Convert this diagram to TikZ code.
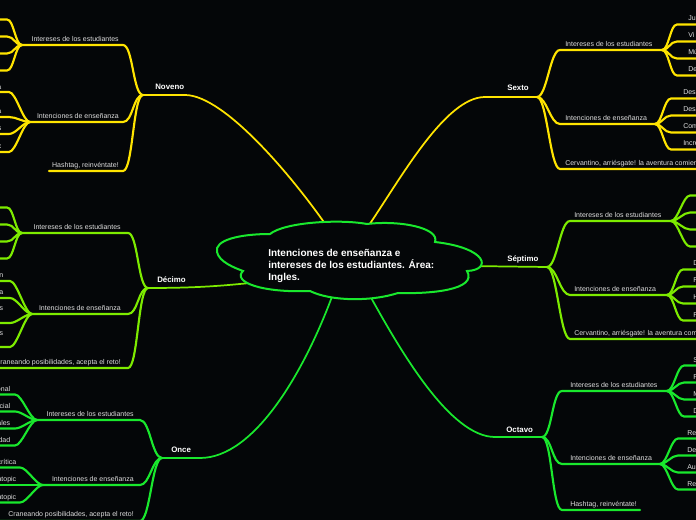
\documentclass[tikz,border=0pt]{standalone}
\usepackage{fontspec}
\setmainfont{Liberation Sans}
\definecolor{bg}{RGB}{4,6,8}
\definecolor{yel}{RGB}{255,228,0}
\definecolor{lim}{RGB}{125,235,0}
\definecolor{grn}{RGB}{25,232,45}
\definecolor{lab}{RGB}{222,222,222}
% right-side leaves with text: #1 hub, #2 colour, #3 curve end x, #4 text x, #5 list y/base/text
\newcommand\rleaves[5]{%
  \foreach \yy/\bb/\ss [count=\k] in {#5} {
    \coordinate (#1l\k) at (#3,\yy);
    \coordinate (#1r\k) at (710,\yy);
    \draw[leaf,#2] (#1) .. controls +(7,0) and +(-7,0) .. (#1l\k) -- (#1r\k);
    \node[lbl,anchor=base west] (#1t\k) at (#4,\bb) {\ss};
  }}
\newcommand\rlines[4]{%
  \foreach \yy [count=\k] in {#4} {
    \coordinate (#1l\k) at (#3,\yy);
    \coordinate (#1r\k) at (710,\yy);
    \draw[leaf,#2] (#1) .. controls +(7,0) and +(-7,0) .. (#1l\k) -- (#1r\k);
  }}
\newcommand\lleaves[5]{%
  \foreach \yy/\bb/\ss [count=\k] in {#5} {
    \coordinate (#1l\k) at (#3,\yy);
    \coordinate (#1r\k) at (-14,\yy);
    \draw[leaf,#2] (#1) .. controls +(-7,0) and +(7,0) .. (#1l\k) -- (#1r\k);
    \node[lbl,anchor=base east] (#1t\k) at (#4,\bb) {\ss};
  }}
\newcommand\llines[4]{%
  \foreach \yy [count=\k] in {#4} {
    \coordinate (#1l\k) at (#3,\yy);
    \coordinate (#1r\k) at (-14,\yy);
    \draw[leaf,#2] (#1) .. controls +(-7,0) and +(7,0) .. (#1l\k) -- (#1r\k);
  }}
\begin{document}
\begin{tikzpicture}[x=0.75pt,y=-0.75pt,
  main/.style={line width=1.3pt,line cap=round},
  sub/.style={line width=1.6pt,line cap=round,line join=round},
  leaf/.style={line width=1.6pt,line cap=round},
  lbl/.style={font=\fontsize{5.25}{6.3}\selectfont,text=lab,inner sep=0pt},
  br/.style={font=\bfseries\fontsize{5.9}{7}\selectfont,text=white,inner sep=0pt},
  cloudline/.style={draw=grn,line width=1.5pt,fill=bg}]
\useasboundingbox (0,0) rectangle (696,520);
\fill[bg] (0,0) rectangle (696,520);
\clip (0,0) rectangle (696,520);

% attach points on the cloud
\coordinate (cnov) at (328,228);
\coordinate (csex) at (367,228);
\coordinate (cdec) at (250,283);
\coordinate (csep) at (468,266);
\coordinate (conc) at (333,294);
\coordinate (coct) at (369,294);

% ---------------- Sexto ----------------
\coordinate (sex) at (537,97);
\coordinate (sexk) at (485,97);
\draw[main,yel] (csex) .. controls (400,180) and (445,97) .. (sexk) -- (sex);
\coordinate (sxAa) at (560,50);  \coordinate (sxA) at (662,50);
\coordinate (sxBa) at (560,124); \coordinate (sxB) at (655,124);
\coordinate (sxCa) at (560,169); \coordinate (sxC) at (710,169);
\draw[sub,yel] (sex) .. controls +(10,0) and +(-10,0) .. (sxAa) -- (sxA);
\draw[sub,yel] (sex) .. controls +(10,0) and +(-10,0) .. (sxBa) -- (sxB);
\draw[sub,yel] (sex) .. controls +(10,0) and +(-10,0) .. (sxCa) -- (sxC);
\rleaves{sxA}{yel}{677}{688}{24.5/21/Ju,41.5/38/Vi,58.5/55/Mú,75.5/72/De}
\rleaves{sxB}{yel}{671}{683}{98.5/95/Desa,115.5/112/Desa,132.5/129/Com,149.5/146/Incre}

% ---------------- Septimo ----------------
\coordinate (sep) at (547,267);
\draw[main,lim] (csep) -- (sep);
\coordinate (spAa) at (570,221); \coordinate (spA) at (671,221);
\coordinate (spBa) at (570,295); \coordinate (spB) at (667,295);
\coordinate (spCa) at (570,339); \coordinate (spC) at (710,339);
\draw[sub,lim] (sep) .. controls +(10,0) and +(-10,0) .. (spAa) -- (spA);
\draw[sub,lim] (sep) .. controls +(10,0) and +(-10,0) .. (spBa) -- (spB);
\draw[sub,lim] (sep) .. controls +(10,0) and +(-10,0) .. (spCa) -- (spC);
\rlines{spA}{lim}{690}{195.5,212.5,229.5,246.5}
\rleaves{spB}{lim}{683}{693}{269.5/266/D,286.5/283/R,303.5/300/H,320.5/317/R}

% ---------------- Octavo ----------------
\coordinate (oct) at (542,437);
\coordinate (octk) at (495,437);
\draw[main,grn] (coct) .. controls (400,350) and (450,437) .. (octk) -- (oct);
\coordinate (ocAa) at (562,391); \coordinate (ocA) at (667,391);
\coordinate (ocBa) at (562,464); \coordinate (ocB) at (660,464);
\coordinate (ocCa) at (562,510); \coordinate (ocC) at (640,510);
\draw[sub,grn] (oct) .. controls +(10,0) and +(-10,0) .. (ocAa) -- (ocA);
\draw[sub,grn] (oct) .. controls +(10,0) and +(-10,0) .. (ocBa) -- (ocB);
\draw[sub,grn] (oct) .. controls +(10,0) and +(-10,0) .. (ocCa) -- (ocC);
\rleaves{ocA}{grn}{684}{693}{365.5/362/S,382.5/379/F,399.5/396/M,416.5/413/D}
\rleaves{ocB}{grn}{678}{687}{438.5/435/Re,455.5/452/De,472.5/469/Au,489.5/486/Re}

% ---------------- Noveno ----------------
\coordinate (nov) at (143,95);
\coordinate (novk) at (185,95);
\draw[main,yel] (cnov) .. controls (295,180) and (225,95) .. (novk) -- (nov);
\coordinate (nvAa) at (123,45);  \coordinate (nvA) at (22,45);
\coordinate (nvBa) at (123,122); \coordinate (nvB) at (30,122);
\coordinate (nvCa) at (123,171); \coordinate (nvC) at (49,171);
\draw[sub,yel] (nov) .. controls +(-10,0) and +(10,0) .. (nvAa) -- (nvA);
\draw[sub,yel] (nov) .. controls +(-10,0) and +(10,0) .. (nvBa) -- (nvB);
\draw[sub,yel] (nov) .. controls +(-10,0) and +(10,0) .. (nvCa) -- (nvC);
\llines{nvA}{yel}{7}{19.5,36.5,53.5,70.5}
\lleaves{nvB}{yel}{9}{1.6}{92/89.5/a,117/113.5/a,134/130.5/s,152/148.5/c}

% ---------------- Decimo ----------------
\coordinate (dec) at (148,288);
\draw[main,lim] (cdec) .. controls (220,286) and (195,288) .. (dec);
\coordinate (dcAa) at (128,233); \coordinate (dcA) at (22,233);
\coordinate (dcBa) at (128,314); \coordinate (dcB) at (32,314);
\coordinate (dcCa) at (128,368); \coordinate (dcC) at (-14,368);
\draw[sub,lim] (dec) .. controls +(-10,0) and +(10,0) .. (dcAa) -- (dcA);
\draw[sub,lim] (dec) .. controls +(-10,0) and +(10,0) .. (dcBa) -- (dcB);
\draw[sub,lim] (dec) .. controls +(-10,0) and +(10,0) .. (dcCa) -- (dcC);
\llines{dcA}{lim}{7}{207.5,224.5,241.5,258.5}
\lleaves{dcB}{lim}{10}{3.5}{281/277.5/n,298/294.5/a,323/310.5/s,347/335.5/s}

% ---------------- Once ----------------
\coordinate (onc) at (162,458);
\coordinate (onck) at (200,458);
\draw[main,grn] (conc) .. controls (305,370) and (255,458) .. (onck) -- (onc);
\coordinate (onAa) at (140,420); \coordinate (onA) at (37,420);
\coordinate (onBa) at (140,485); \coordinate (onB) at (43,485);
\coordinate (onCa) at (140,521); \coordinate (onC) at (-14,521);
\draw[sub,grn] (onc) .. controls +(-10,0) and +(10,0) .. (onAa) -- (onA);
\draw[sub,grn] (onc) .. controls +(-10,0) and +(10,0) .. (onBa) -- (onB);
\draw[sub,grn] (onc) .. controls +(-10,0) and +(10,0) .. (onCa) -- (onC);
\lleaves{onA}{grn}{15}{10.5}{394.5/391/onal,411.5/408/cial,428.5/425/ales,445.5/442/idad}
\lleaves{onB}{grn}{20}{16.5}{467.5/464/crítica,485/481.5/atopic,502.5/499/atopic}

% ---------------- central cloud ----------------
\path[cloudline] (270,234)
  .. controls (240,234) and (214,240) .. (217,252)
  .. controls (219,262) and (235,268) .. (243,271)
  .. controls (232,282) and (262,293) .. (310,291)
  .. controls (330,301) and (370,302) .. (398,293)
  .. controls (430,294) and (478,290) .. (467,271)
  .. controls (492,270) and (488,248) .. (435,242)
  .. controls (440,228) and (400,220) .. (367,224)
  .. controls (340,219) and (285,222) .. (270,234) -- cycle;
\node[anchor=north west,align=left,inner sep=0pt,text=white,
      font=\bfseries\fontsize{7.5}{9}\selectfont] (title) at (268,248.7)
  {Intenciones de enseñanza e\\intereses de los estudiantes. Área:\\Ingles.};

% ---------------- labels ----------------
\node[br,anchor=base west] (sexT) at (507,91) {Sexto};
\node[br,anchor=base west] (sepT) at (507,262) {Séptimo};
\node[br,anchor=base west] (octT) at (506,432) {Octavo};
\node[br,anchor=base west] (novT) at (155,90) {Noveno};
\node[br,anchor=base west] (decT) at (157,282) {Décimo};
\node[br,anchor=base west] (oncT) at (171,452) {Once};

\node[lbl,anchor=base west] (sxAt) at (565,46.5) {Intereses de los estudiantes};
\node[lbl,anchor=base west] (sxBt) at (565,120.5) {Intenciones de enseñanza};
\node[lbl,anchor=base west] (sxCt) at (565,165.5) {Cervantino, arriésgate! la aventura comienza};
\node[lbl,anchor=base west] (spAt) at (574,217.5) {Intereses de los estudiantes};
\node[lbl,anchor=base west] (spBt) at (574,291.5) {Intenciones de enseñanza};
\node[lbl,anchor=base west] (spCt) at (574,335.5) {Cervantino, arriésgate! la aventura comienza};
\node[lbl,anchor=base west] (ocAt) at (570,387.5) {Intereses de los estudiantes};
\node[lbl,anchor=base west] (ocBt) at (570,460.5) {Intenciones de enseñanza};
\node[lbl,anchor=base west] (ocCt) at (570,506.5) {Hashtag, reinvéntate!};

\node[lbl,anchor=base east] (nvAt) at (119,41.5) {Intereses de los estudiantes};
\node[lbl,anchor=base east] (nvBt) at (119,118.5) {Intenciones de enseñanza};
\node[lbl,anchor=base east] (nvCt) at (119,167.5) {Hashtag, reinvéntate!};
\node[lbl,anchor=base east] (dcAt) at (121,229.5) {Intereses de los estudiantes};
\node[lbl,anchor=base east] (dcBt) at (121,310.5) {Intenciones de enseñanza};
\node[lbl,anchor=base east] (dcCt) at (121,364.5) {Craneando posibilidades, acepta el reto!};
\node[lbl,anchor=base east] (onAt) at (134,416.5) {Intereses de los estudiantes};
\node[lbl,anchor=base east] (onBt) at (134,481.5) {Intenciones de enseñanza};
\node[lbl,anchor=base east] (onCt) at (134,516.5) {Craneando posibilidades, acepta el reto!};
\end{tikzpicture}
\end{document}
